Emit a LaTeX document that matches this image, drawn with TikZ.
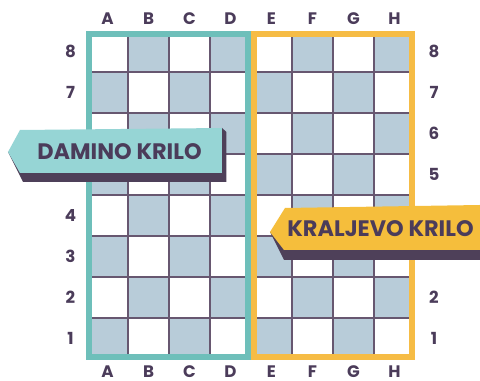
\documentclass[tikz,border=0pt]{standalone}
\usepackage{fontspec}
\setmainfont{Poppins}
\definecolor{ink}{HTML}{4B3C5A}
\definecolor{gridc}{HTML}{675770}
\definecolor{darksq}{HTML}{B8CCD9}
\definecolor{tealframe}{HTML}{6EBFBA}
\definecolor{yelframe}{HTML}{F6BC45}
\definecolor{tealban}{HTML}{96D5D5}
\definecolor{yelban}{HTML}{F5BE3C}
\definecolor{shadowc}{HTML}{4E4059}
\tikzset{
  coordlbl/.style={text=ink,font=\fontsize{12.5}{12.5}\selectfont\bfseries,inner sep=0pt},
  bannertxt/.style={text=ink,font=\fontsize{16.8}{16.8}\selectfont\bfseries,inner sep=0pt},
  gridline/.style={draw=gridc,line width=1.1pt},
}
\begin{document}
\begin{tikzpicture}[x=0.75pt,y=-0.75pt]
\useasboundingbox (0,0) rectangle (480,381);
% squares
\foreach \i in {1,...,8}{
  \foreach \r in {1,...,8}{
    \pgfmathtruncatemacro{\sqpar}{mod(\i+\r,2)}
    \ifnum\sqpar=0
      \fill[darksq] ({87+(\i-1)*41},{31+(8-\r)*41}) rectangle ++(41,41);
    \else
      \fill[white] ({87+(\i-1)*41},{31+(8-\r)*41}) rectangle ++(41,41);
    \fi
  }
}
% grid lines
\foreach \k in {1,...,7}{
  \draw[gridline] ({87+\k*41},31) -- ({87+\k*41},359);
  \draw[gridline] (87,{31+\k*41}) -- (415,{31+\k*41});
}
% frames
\draw[tealframe,line width=4.5pt] (89.5,34) rectangle (248,357);
\draw[yelframe,line width=4.5pt] (254,34) rectangle (412.5,357);
% file and rank labels
\foreach \l [count=\i] in {A,B,C,D,E,F,G,H}{
  \node[coordlbl] (top\l) at ({87+(\i-0.5)*41},19) {\l};
  \node[coordlbl] (bot\l) at ({87+(\i-0.5)*41},371.5) {\l};
}
\foreach \r in {1,2,3,4,7,8}{
  \node[coordlbl] (left\r) at (70.5,{31+(8.5-\r)*41}) {\r};
}
\foreach \r in {1,2,5,6,7,8}{
  \node[coordlbl] (right\r) at (434,{31+(8.5-\r)*41}) {\r};
}
% banner: DAMINO KRILO
\fill[shadowc] (8,152) -- (23,182) -- (226.5,182) -- (226.5,132) -- (222,128) -- cycle;
\fill[tealban] (20,130) -- (222,128) -- (222,173) -- (20,173) -- (8,152) -- cycle;
\node[bannertxt] (dam) at (119.5,152) {DAMINO KRILO};
% banner: KRALJEVO KRILO
\fill[shadowc] (270,232) -- (284,260) -- (480,260) -- (480,205) -- cycle;
\fill[yelban] (285,208) -- (480,205) -- (480,250) -- (284,250) -- (270,232) -- cycle;
\node[bannertxt] (kra) at (380.5,229) {KRALJEVO KRILO};
\end{tikzpicture}
\end{document}
